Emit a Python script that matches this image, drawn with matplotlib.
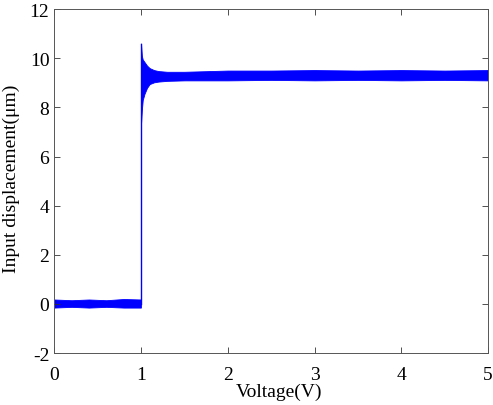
"""Step response: input displacement vs voltage."""
import matplotlib
matplotlib.use('Agg')
import matplotlib.pyplot as plt

# Noise envelope (upper / lower edge of the blue band)
x_env = [0.0, 0.2, 0.4, 0.6, 0.8, 0.999,
         1.0, 1.01, 1.02, 1.04, 1.07, 1.1, 1.15, 1.2, 1.3, 1.5, 2.0, 2.5, 3.0, 3.5, 4.0, 4.5, 5.0]
y_upper = [0.18, 0.15, 0.18, 0.15, 0.2, 0.18,
           10.6, 10.1, 9.95, 9.85, 9.7, 9.6, 9.52, 9.48, 9.45, 9.45, 9.5, 9.5, 9.52, 9.5, 9.52, 9.5, 9.52]
y_lower = [-0.15, -0.12, -0.15, -0.12, -0.15, -0.15,
           7.3, 7.9, 8.3, 8.55, 8.8, 8.95, 9.02, 9.05, 9.08, 9.1, 9.1, 9.12, 9.1, 9.12, 9.1, 9.12, 9.1]

# Step edge at V = 1
step_x = [1.0, 1.0]
step_y = [0.0, 10.6]

blue = '#0000FF'

plt.rcParams['font.family'] = ['Liberation Serif', 'DejaVu Serif']
plt.rcParams['axes.unicode_minus'] = False
fig = plt.figure(figsize=(4.93, 4.06), dpi=100)
ax = fig.add_axes([0.11, 0.128, 0.88, 0.847])

ax.fill_between(x_env, y_lower, y_upper, color=blue, lw=0.6, edgecolor=blue)
ax.plot(step_x, step_y, color=blue, lw=1.0)

ax.set_xlim(0, 5)
ax.set_ylim(-2, 12)
ax.set_xticks(range(0, 6))
ax.set_yticks(range(-2, 13, 2))
ax.tick_params(direction='in', length=4, width=0.6, labelsize=14,
               top=True, right=True, colors='#333333', labelcolor='black')
ax.tick_params(axis='x', pad=9)
for s in ax.spines.values():
    s.set_linewidth(0.7)
    s.set_color('#555555')

ax.set_xlabel('Voltage(V)', fontsize=14)
ax.set_ylabel('Input displacement(μm)', fontsize=14)
ax.yaxis.set_label_coords(-0.08, 0.51)
ax.xaxis.set_label_coords(0.518, -0.085)

plt.savefig('out.png', dpi=100)
